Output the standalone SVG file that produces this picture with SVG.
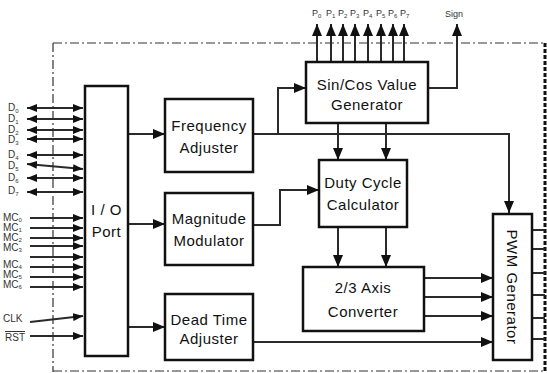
<svg xmlns="http://www.w3.org/2000/svg" width="547" height="373" viewBox="0 0 547 373">
<style>
.box{fill:#fff;stroke:#111;stroke-width:2.5}
.ln{fill:none;stroke:#2a2a2a;stroke-width:2}
.t{font-family:"Liberation Sans",Arial,sans-serif;font-size:15px;letter-spacing:0.5px;fill:#111;text-anchor:middle}
.s{font-family:"Liberation Sans",Arial,sans-serif;font-size:10px;fill:#333}
.sub{font-size:6px}
.p{font-family:"Liberation Sans",Arial,sans-serif;font-size:9px;fill:#333}
</style>
<defs>
<marker id="a" markerUnits="userSpaceOnUse" markerWidth="12" markerHeight="10" refX="12" refY="5" orient="auto-start-reverse" viewBox="0 0 12 10">
<path d="M0,0 L12,5 L0,10 z" fill="#111"/>
</marker>
<marker id="b" markerUnits="userSpaceOnUse" markerWidth="10" markerHeight="8" refX="10" refY="4" orient="auto-start-reverse" viewBox="0 0 10 8">
<path d="M0,0 L10,4 L0,8 z" fill="#111"/>
</marker>
</defs>
<g id="border" fill="none">
<path d="M53,43 H545" stroke="#333" stroke-width="1.2" stroke-dasharray="9,3,2,3"/>
<path d="M53,43 V372" stroke="#333" stroke-width="1.2" stroke-dasharray="9,3,2,3"/>
<path d="M53,371 H545" stroke="#333" stroke-width="1.2" stroke-dasharray="9,3,2,3"/>
<path d="M545,43 V372" stroke="#111" stroke-width="3" stroke-dasharray="4,2"/>
</g>
<g id="connectors">
<g class="ln" marker-start="url(#b)" marker-end="url(#b)">
<line x1="27" y1="108" x2="83" y2="108"/>
<line x1="27" y1="119" x2="83" y2="119"/>
<line x1="27" y1="130" x2="83" y2="130"/>
<line x1="27" y1="139" x2="83" y2="139"/>
<line x1="27" y1="155" x2="83" y2="155"/>
<line x1="27" y1="164" x2="83" y2="169"/>
<line x1="27" y1="178" x2="83" y2="178"/>
<line x1="27" y1="192" x2="83" y2="192"/>
</g>
<g class="ln" marker-end="url(#b)">
<line x1="30" y1="218" x2="83" y2="218"/>
<line x1="30" y1="228" x2="83" y2="228"/>
<line x1="30" y1="238" x2="83" y2="238"/>
<line x1="30" y1="246" x2="83" y2="246"/>
<line x1="30" y1="257" x2="83" y2="257"/>
<line x1="30" y1="267" x2="83" y2="267"/>
<line x1="30" y1="277" x2="83" y2="277"/>
<line x1="30" y1="287" x2="83" y2="287"/>
<line x1="30" y1="322" x2="83" y2="316"/>
<line x1="30" y1="336" x2="83" y2="336"/>
</g>
<g class="ln" marker-end="url(#a)">
<line x1="128" y1="134" x2="165" y2="134"/>
<line x1="128" y1="224" x2="165" y2="224"/>
<line x1="128" y1="327" x2="165" y2="327"/>
<polyline points="253,134 509,134 509,213"/>
<polyline points="278,134 278,88 306,88"/>
<line x1="338" y1="123" x2="338" y2="160"/>
<line x1="386" y1="123" x2="386" y2="160"/>
<polyline points="253,225 280,225 280,190 319,190"/>
<line x1="338" y1="227" x2="338" y2="267"/>
<line x1="386" y1="227" x2="386" y2="267"/>
<line x1="424" y1="278" x2="493" y2="278"/>
<line x1="424" y1="297" x2="493" y2="297"/>
<line x1="424" y1="316" x2="493" y2="316"/>
<line x1="253" y1="342" x2="493" y2="342"/>
<line x1="317" y1="62" x2="317" y2="24"/>
<line x1="331" y1="62" x2="331" y2="24"/>
<line x1="343" y1="62" x2="343" y2="24"/>
<line x1="355" y1="62" x2="355" y2="24"/>
<line x1="368" y1="62" x2="368" y2="24"/>
<line x1="381" y1="62" x2="381" y2="24"/>
<line x1="393" y1="62" x2="393" y2="24"/>
<line x1="404" y1="62" x2="404" y2="24"/>
<polyline points="428,88 457,88 457,24"/>
</g>
<g class="ln">
<line x1="532" y1="230" x2="545" y2="230"/>
<line x1="532" y1="249" x2="545" y2="249"/>
<line x1="532" y1="273" x2="545" y2="273"/>
<line x1="532" y1="295" x2="545" y2="295"/>
<line x1="532" y1="318" x2="545" y2="318"/>
<line x1="532" y1="339" x2="545" y2="339"/>
</g>
</g>
<g id="io">
<rect class="box" x="85" y="86" width="43" height="270"/>
<text class="t" x="106.5" y="215">I / O</text>
<text class="t" x="106.5" y="237">Port</text>
</g>
<g id="freq">
<rect class="box" x="165" y="99" width="88" height="73"/>
<text class="t" x="209" y="131">Frequency</text>
<text class="t" x="209" y="153">Adjuster</text>
</g>
<g id="mag">
<rect class="box" x="165" y="193" width="88" height="72"/>
<text class="t" x="209" y="224">Magnitude</text>
<text class="t" x="209" y="246">Modulator</text>
</g>
<g id="dead">
<rect class="box" x="165" y="294" width="88" height="66"/>
<text class="t" x="209" y="325">Dead Time</text>
<text class="t" x="209" y="344">Adjuster</text>
</g>
<g id="sincos">
<rect class="box" x="306" y="62" width="122" height="61"/>
<text class="t" x="367" y="90">Sin/Cos Value</text>
<text class="t" x="367" y="110">Generator</text>
</g>
<g id="duty">
<rect class="box" x="319" y="160" width="88" height="67"/>
<text class="t" x="363" y="188">Duty Cycle</text>
<text class="t" x="363" y="210">Calculator</text>
</g>
<g id="axis">
<rect class="box" x="303" y="267" width="121" height="64"/>
<text class="t" x="363" y="293">2/3 Axis</text>
<text class="t" x="363" y="317">Converter</text>
</g>
<g id="pwm">
<rect class="box" x="493" y="214" width="39" height="146"/>
<text class="t" transform="translate(507,287) rotate(90)">PWM Generator</text>
</g>
<g id="labels">
<text class="s" x="8" y="111">D<tspan class="sub" dy="2">0</tspan></text>
<text class="s" x="8" y="122">D<tspan class="sub" dy="2">1</tspan></text>
<text class="s" x="8" y="133">D<tspan class="sub" dy="2">2</tspan></text>
<text class="s" x="8" y="143">D<tspan class="sub" dy="2">3</tspan></text>
<text class="s" x="8" y="158">D<tspan class="sub" dy="2">4</tspan></text>
<text class="s" x="8" y="169">D<tspan class="sub" dy="2">5</tspan></text>
<text class="s" x="8" y="181">D<tspan class="sub" dy="2">6</tspan></text>
<text class="s" x="8" y="194">D<tspan class="sub" dy="2">7</tspan></text>
<text class="s" x="3" y="221">MC<tspan class="sub" dy="1">0</tspan></text>
<text class="s" x="3" y="231">MC<tspan class="sub" dy="1">1</tspan></text>
<text class="s" x="3" y="241">MC<tspan class="sub" dy="1">2</tspan></text>
<text class="s" x="3" y="251">MC<tspan class="sub" dy="1">3</tspan></text>
<text class="s" x="3" y="268">MC<tspan class="sub" dy="1">4</tspan></text>
<text class="s" x="3" y="278">MC<tspan class="sub" dy="1">5</tspan></text>
<text class="s" x="3" y="288">MC<tspan class="sub" dy="1">6</tspan></text>
<text class="s" x="3" y="322">CLK</text>
<text class="s" x="5" y="341" text-decoration="overline">RST</text>
<text class="p" x="312" y="16">P<tspan class="sub" dy="2">0</tspan></text>
<text class="p" x="326" y="16">P<tspan class="sub" dy="2">1</tspan></text>
<text class="p" x="338" y="16">P<tspan class="sub" dy="2">2</tspan></text>
<text class="p" x="350" y="16">P<tspan class="sub" dy="2">3</tspan></text>
<text class="p" x="363" y="16">P<tspan class="sub" dy="2">4</tspan></text>
<text class="p" x="376" y="16">P<tspan class="sub" dy="2">5</tspan></text>
<text class="p" x="388" y="16">P<tspan class="sub" dy="2">6</tspan></text>
<text class="p" x="400" y="16">P<tspan class="sub" dy="2">7</tspan></text>
<text class="p" x="445" y="17">Sign</text>
</g>
</svg>
